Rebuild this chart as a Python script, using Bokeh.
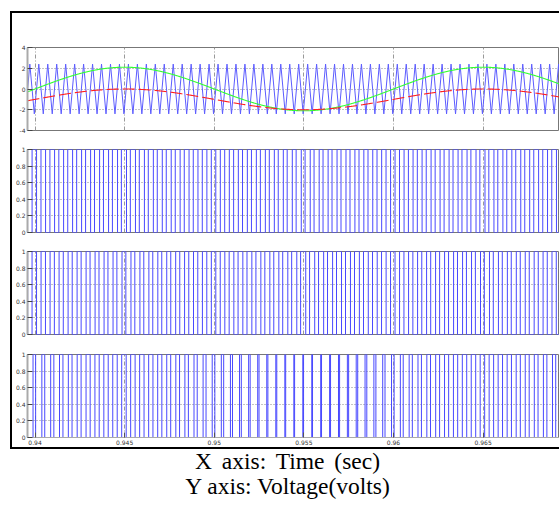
import numpy as np
from bokeh.plotting import figure
from bokeh.layouts import column, row
from bokeh.models import FixedTicker, Range1d, Div, Spacer
from bokeh.embed import file_html
from bokeh.resources import INLINE

# ---- values ----
x_ticks = [0.94, 0.945, 0.95, 0.955, 0.96, 0.965]
x_tick_labels = ["0.94", "0.945", "0.95", "0.955", "0.96", "0.965"]
x_start = 0.93958
x_end = 0.96926
top_y_ticks = [-4, -2, 0, 2, 4]
top_y_labels = ["-4", "-2", "0", "2", "4"]
pwm_y_ticks = [0, 0.2, 0.4, 0.6, 0.8, 1]
pwm_y_labels = ["0", "0.2", "0.4", "0.6", "0.8", "1"]

carrier_freq_hz = 2000.0      # blue triangular carrier
carrier_peak = 2.4            # carrier swings +/- this
carrier_first_top = 0.93971   # time of first carrier maximum
ref_freq_hz = 50.0            # green / red references
green_amp = 2.1
red_amp = 1.0
red_offset = -1.0
# gate panels 2 and 3 look close to 50 % duty everywhere (small modulation)
gate2_amp = 0.35
gate3_amp = -0.35

captions = ["X axis: Time (sec)", "Y axis: Voltage(volts)"]

# ---- signals ----
T = 1.0 / carrier_freq_hz
k0 = int(np.floor((x_start - carrier_first_top) / (T / 2))) - 1
k1 = int(np.ceil((x_end - carrier_first_top) / (T / 2))) + 1
ks = np.arange(k0, k1 + 1)
car_t = carrier_first_top + ks * T / 2
car_v = np.where(ks % 2 == 0, carrier_peak, -carrier_peak)

ref_t = np.linspace(x_start, x_end, 1500)
green_v = green_amp * np.sin(2 * np.pi * ref_freq_hz * ref_t)
red_v = red_offset + red_amp * np.sin(2 * np.pi * ref_freq_hz * ref_t)

tf = np.linspace(x_start, x_end, 400001)
ph = ((tf - carrier_first_top) / T) % 1.0
car_f = carrier_peak * (4 * np.abs(ph - 0.5) - 1)
sin_f = np.sin(2 * np.pi * ref_freq_hz * tf)
red_f = red_offset + red_amp * sin_f


def steps(state):
    s = state.astype(float)
    idx = np.nonzero(np.diff(s))[0]
    xs = [tf[0]]
    ys = [s[0]]
    for i in idx:
        te = tf[i + 1]
        xs += [te, te]
        ys += [s[i], s[i + 1]]
    xs.append(tf[-1])
    ys.append(s[-1])
    return xs, ys


pwm_a = steps(gate2_amp * sin_f > car_f)
pwm_b = steps(gate3_amp * sin_f > car_f)
pwm_c = steps(red_f > car_f)

# ---- figures ----
FIG_W = 547
TICK_FONT = "DejaVu Sans"


def make_fig(height, top, bottom, yr, yticks, ylabels, show_x):
    p = figure(width=FIG_W, height=height, output_backend="svg",
               toolbar_location=None, min_border_left=14, min_border_right=0,
               min_border_top=top, min_border_bottom=bottom,
               x_range=Range1d(x_start, x_end), y_range=Range1d(*yr),
               background_fill_color="white", border_fill_color="white",
               margin=(0, 0, 0, 0))
    p.outline_line_color = "#777777"
    p.outline_line_width = 1
    p.yaxis.ticker = FixedTicker(ticks=yticks)
    p.yaxis.major_label_overrides = {t: l for t, l in zip(yticks, ylabels)}
    p.yaxis.major_label_text_font = TICK_FONT
    p.yaxis.major_label_text_font_size = "6px"
    p.yaxis.major_label_text_color = "#333333"
    p.yaxis.major_label_standoff = 2
    p.yaxis.major_tick_in = 5
    p.yaxis.major_tick_out = 0
    p.yaxis.major_tick_line_color = "#444444"
    p.yaxis.minor_tick_line_color = None
    p.yaxis.axis_line_color = "#aaaaaa"
    p.yaxis.axis_line_width = 2
    p.xaxis.ticker = FixedTicker(ticks=x_ticks)
    p.xaxis.major_label_overrides = {t: l for t, l in zip(x_ticks, x_tick_labels)}
    p.xaxis.major_label_text_font = TICK_FONT
    p.xaxis.major_label_text_font_size = "6px"
    p.xaxis.major_label_text_color = "#333333"
    p.xaxis.major_label_standoff = 2
    p.xaxis.major_tick_in = 5
    p.xaxis.major_tick_out = 0
    p.xaxis.major_tick_line_color = "#555555"
    p.xaxis.minor_tick_line_color = None
    p.xaxis.axis_line_color = "#aaaaaa"
    if not show_x:
        p.xaxis.visible = False
    p.xgrid.grid_line_color = "#999999"
    p.xgrid.grid_line_dash = "4 2 1 2"
    p.ygrid.grid_line_color = "#888888"
    p.ygrid.grid_line_dash = "1 2"
    return p


p1 = make_fig(126, 34, 9, (-4, 4), top_y_ticks, top_y_labels, False)
p1.line(car_t, car_v, line_color="#5c5cff", line_width=1)
p1.line(ref_t, green_v, line_color="#33ff33", line_width=1.1)
p1.line(ref_t, red_v, line_color="#ff2020", line_width=1.1, line_dash="12 4")

p2 = make_fig(102, 10, 9, (0, 1), pwm_y_ticks, pwm_y_labels, False)
p2.line(pwm_a[0], pwm_a[1], line_color="#4848ff", line_width=1)

p3 = make_fig(102, 10, 9, (0, 1), pwm_y_ticks, pwm_y_labels, False)
p3.line(pwm_b[0], pwm_b[1], line_color="#4848ff", line_width=1)

p4 = make_fig(104, 11, 10, (0, 1), pwm_y_ticks, pwm_y_labels, True)
p4.line(pwm_c[0], pwm_c[1], line_color="#4848ff", line_width=1)

Z = (0, 0, 0, 0)
black = {"background-color": "black"}


def bar(w, h):
    return Div(width=w, height=h, styles=black, margin=Z)


def gap(w, h):
    return Spacer(width=w, height=h, margin=Z)


top_line = row(gap(10, 2), bar(549, 2), margin=Z, spacing=0)
mid = row(gap(10, 434), bar(2, 434), column(p1, p2, p3, p4, margin=Z, spacing=0),
          margin=Z, spacing=0)
bot_line = row(gap(10, 2), bar(549, 2), margin=Z, spacing=0)

cap = Div(text='<span style="word-spacing:4px">' + captions[0] + "</span><br>" + captions[1],
          width=546, height=49, margin=Z,
          styles={"font-family": "Liberation Serif, Times New Roman, serif",
                  "font-size": "23.5px", "line-height": "25px",
                  "text-align": "center", "color": "black",
                  "padding-left": "29px"})

layout = column(gap(559, 11), top_line, mid, bot_line, cap, margin=Z, spacing=0)

open("out.html", "w").write(file_html(layout, INLINE))
